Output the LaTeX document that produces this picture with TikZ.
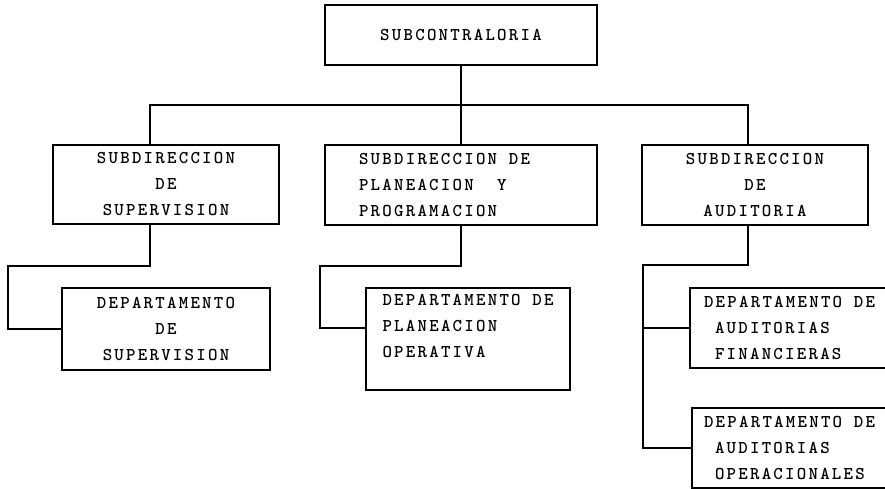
\documentclass[tikz,border=0pt]{standalone}
\usepackage{fontspec}
\newfontfamily\typewr{lmmonolt10-bold.otf}[LetterSpace=12.5]
\usetikzlibrary{calc}

\tikzset{
  box/.style={draw, line width=2pt, inner sep=0pt, font=\typewr\fontsize{18}{26}\selectfont},
  link/.style={line width=2pt}
}

\begin{document}
\begin{tikzpicture}[x=1pt,y=-1pt]
    \useasboundingbox (0,0) rectangle (885,489);
    \clip (0,0) rectangle (885,489);

    \node[box, minimum width=272pt, minimum height=60pt] (subcon) at (461,35) {SUBCONTRALORIA};

    \node[box, minimum width=226pt, minimum height=79pt, align=center] (subsup) at (166,184.5) {SUBDIRECCION\\DE\\SUPERVISION};
    \node[box, minimum width=272pt, minimum height=80pt, align=left] (subplan) at (461,185) {SUBDIRECCION DE\hspace*{33pt}\\PLANEACION~~Y\\PROGRAMACION};
    \node[box, minimum width=226pt, minimum height=80pt, align=center] (subaud) at (755,185) {SUBDIRECCION\\DE\\AUDITORIA};

    \node[box, minimum width=208pt, minimum height=82pt, align=center] (depsup) at (166,329) {DEPARTAMENTO\\DE\\SUPERVISION};
    \node[box, minimum width=204pt, minimum height=102pt, align=left] (depplan) at (468,339) {DEPARTAMENTO DE\\PLANEACION\\OPERATIVA\\\mbox{}};
    \node[box, minimum width=199pt, minimum height=80pt, align=left] (depfin) at (789.5,328) {DEPARTAMENTO DE\\\hspace*{11pt}AUDITORIAS\\\hspace*{11pt}FINANCIERAS};
    \node[box, minimum width=195pt, minimum height=80pt, align=left] (depoper) at (789.5,448) {DEPARTAMENTO DE\\\hspace*{11pt}AUDITORIAS\\\hspace*{11pt}OPERACIONALES};


    \coordinate (bus) at (461,105);
    \draw[link] (subcon.south) -- (bus);
    \draw[link] ($(subsup.north)+(-16,0)$) |- (bus) -| ($(subaud.north)+(-7,0)$);
    \draw[link] (bus) -- (subplan.north);

    \coordinate (turnsup) at (8,266);
    \draw[link] ($(subsup.south)+(-16,0)$) |- (turnsup) |- (depsup.west);

    \coordinate (turnplan) at (320,266);
    \draw[link] (subplan.south) |- (turnplan) |- ($(depplan.west)+(0,-11)$);

    \coordinate (turnaud) at (643,265);
    \draw[link] ($(subaud.south)+(-7,0)$) |- (turnaud) |- (depoper.west);
    \draw[link] (turnaud |- depfin.west) -- (depfin.west);

  \end{tikzpicture}
\end{document}
